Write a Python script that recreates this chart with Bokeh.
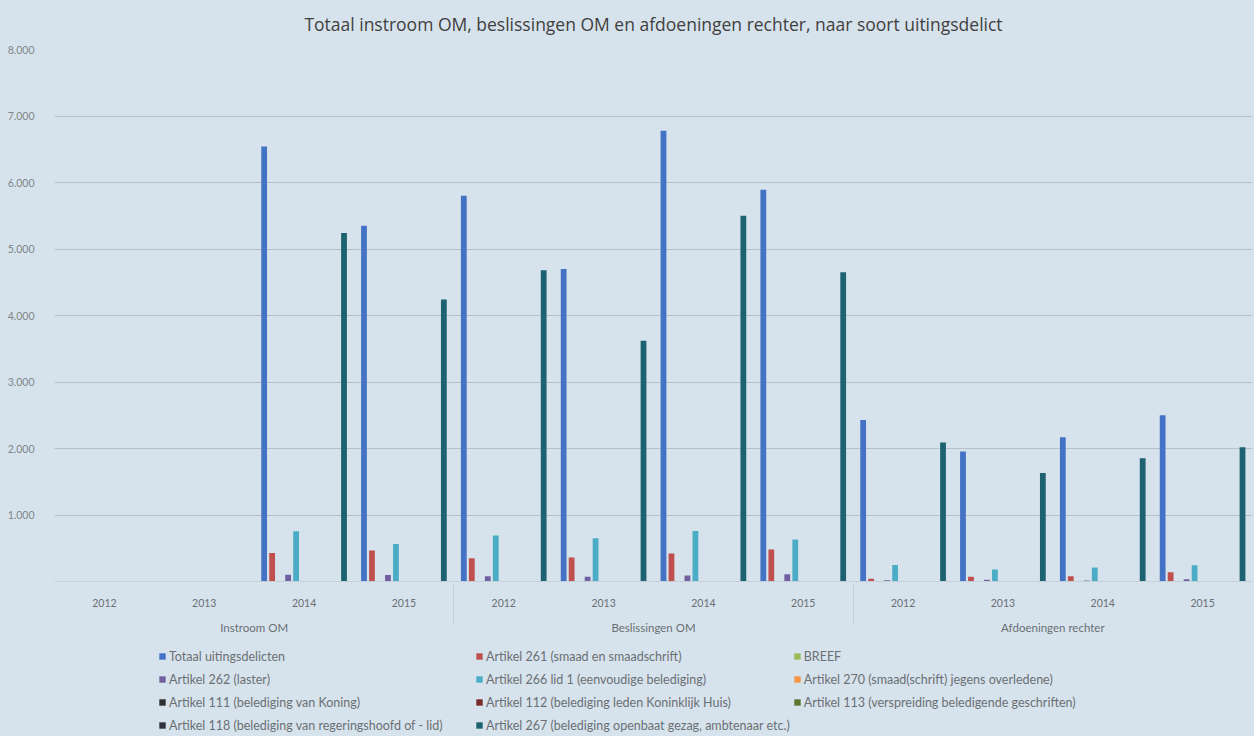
from bokeh.plotting import figure
from bokeh.layouts import column
from bokeh.models import (ColumnDataSource, FactorRange, Range1d, Legend, LegendItem,
                          FixedTicker)
from bokeh.transform import dodge
from bokeh.embed import file_html
from bokeh.resources import INLINE

# ---------------- data ----------------
groups = ["Instroom OM", "Beslissingen OM", "Afdoeningen rechter"]
years = ["2012", "2013", "2014", "2015"]

series_names = [
    "Totaal uitingsdelicten",
    "Artikel 261 (smaad en smaadschrift)",
    "BREEF",
    "Artikel 262 (laster)",
    "Artikel 266 lid 1 (eenvoudige belediging)",
    "Artikel 270 (smaad(schrift) jegens overledene)",
    "Artikel 111 (belediging van Koning)",
    "Artikel 112 (belediging leden Koninklijk Huis)",
    "Artikel 113 (verspreiding beledigende geschriften)",
    "Artikel 118 (belediging van regeringshoofd of - lid)",
    "Artikel 267 (belediging openbaat gezag, ambtenaar etc.)",
]

# values per category (Instroom 2012..2015, Beslissingen 2012..2015, Afdoeningen 2012..2015)
totaal      = [0, 0, 6540, 5350, 5800, 4700, 6780, 5890, 2430, 1955, 2170, 2500]
art_261     = [0, 0, 430, 465, 350, 360, 420, 480, 40, 70, 80, 140]
breef       = [0, 0, 0, 0, 0, 0, 0, 0, 0, 0, 0, 0]
art_262     = [0, 0, 100, 96, 80, 70, 90, 110, 20, 25, 15, 35]
art_266     = [0, 0, 755, 565, 690, 650, 760, 630, 250, 180, 210, 245]
art_270     = [0, 0, 0, 0, 0, 0, 0, 0, 0, 0, 0, 0]
art_111     = [0, 0, 0, 0, 0, 0, 0, 0, 0, 0, 0, 0]
art_112     = [0, 0, 0, 0, 0, 0, 0, 0, 0, 0, 0, 0]
art_113     = [0, 0, 0, 0, 0, 0, 0, 0, 0, 0, 0, 0]
art_118     = [0, 0, 0, 0, 0, 0, 0, 0, 0, 0, 0, 0]
art_267     = [0, 0, 5240, 4240, 4680, 3620, 5500, 4650, 2090, 1630, 1855, 2020]

y_ticks = [1000, 2000, 3000, 4000, 5000, 6000, 7000, 8000]
y_tick_labels = ["1.000", "2.000", "3.000", "4.000", "5.000", "6.000", "7.000", "8.000"]

series_values = [totaal, art_261, breef, art_262, art_266, art_270,
                 art_111, art_112, art_113, art_118, art_267]
series_colors = ["#4472c4", "#c0504d", "#9bbb59", "#7060a0", "#4bacc6", "#f79646",
                 "#2f2f2f", "#772c2a", "#5f7530", "#33303f", "#1d6270"]

# ---------------- main figure ----------------
factors = [(g, y) for g in groups for y in years]
keys = ["s%d" % i for i in range(len(series_names))]
data = {"x": factors}
for k, v in zip(keys, series_values):
    data[k] = v
source = ColumnDataSource(data)

BG = "#d7e3ec"
W = 1254
fig = figure(
    x_range=FactorRange(*factors, group_padding=0, factor_padding=0, range_padding=0),
    y_range=Range1d(0, 8000),
    width=W, height=639,
    output_backend="svg", toolbar_location=None,
    title="Totaal instroom OM, beslissingen OM en afdoeningen rechter, naar soort uitingsdelict",
    min_border_left=54, min_border_right=2, min_border_top=47, min_border_bottom=58,
    background_fill_color=BG, border_fill_color=BG,
)
fig.outline_line_color = None
fig.title.align = "center"
fig.title.vertical_align = "top"
fig.title.text_font = "Open Sans"
fig.title.text_font_size = "17.5px"
fig.title.text_font_style = "normal"
fig.title.text_color = "#404040"
fig.title.standoff = 23

renderers = []
step = 0.08
for i, (k, c) in enumerate(zip(keys, series_colors)):
    off = -0.4 + step * i
    r = fig.vbar(x=dodge("x", off, range=fig.x_range), top=k, width=0.058, source=source,
                 fill_color=c, line_color=None)
    renderers.append(r)

fig.xgrid.grid_line_color = None
fig.ygrid.grid_line_color = "#b5c0c8"
fig.ygrid.grid_line_width = 1.2
fig.yaxis.ticker = FixedTicker(ticks=y_ticks)
fig.yaxis.major_label_overrides = {t: l for t, l in zip(y_ticks, y_tick_labels)}
fig.yaxis.axis_line_color = None
fig.yaxis.major_tick_line_color = None
fig.yaxis.minor_tick_line_color = None
fig.yaxis.major_label_text_font = "Lato"
fig.yaxis.major_label_text_font_size = "10.5px"
fig.yaxis.major_label_text_color = "#80868b"
fig.yaxis.major_label_standoff = 14

xa = fig.xaxis[0]
xa.axis_line_color = "#c5cfd6"
xa.major_tick_line_color = None
xa.minor_tick_line_color = None
xa.major_label_text_font = "Lato"
xa.major_label_text_font_size = "10.5px"
xa.major_label_text_color = "#6a6f74"
xa.major_label_standoff = 11
xa.group_text_font = "Lato"
xa.group_text_font_size = "11.5px"
xa.group_text_color = "#6a6f74"
xa.group_text_font_style = "normal"
xa.separator_line_color = "#c5cfd6"
xa.separator_line_width = 1

# ---------------- legend strip ----------------
leg_fig = figure(
    width=W, height=97, x_range=Range1d(0, 1), y_range=Range1d(0, 1),
    x_axis_type=None, y_axis_type=None,
    output_backend="svg", toolbar_location=None,
    min_border_left=54, min_border_right=2, min_border_top=5, min_border_bottom=0,
    background_fill_color=BG, border_fill_color=BG,
)
leg_fig.outline_line_color = None
swatches = []
for c in series_colors:
    # legend-only renderer, its single point lies outside the visible range
    swatches.append(leg_fig.vbar(x=[-1.0], top=[0.0], width=0.001, fill_color=c, line_color=None))

legend = Legend(
    items=[LegendItem(label=nm, renderers=[r]) for nm, r in zip(series_names, swatches)],
    orientation="horizontal", ncols=3,
    location=(104, 1),
    glyph_width=8, glyph_height=8, label_standoff=3, label_width=303,
    label_text_font="Lato", label_text_font_size="12.5px", label_text_color="#6a6f74",
    label_height=20, spacing=3,
    border_line_color=None, background_fill_alpha=0, margin=0, padding=0,
)
leg_fig.add_layout(legend)

p = column(fig, leg_fig, styles={"background-color": BG})
open("out.html", "w").write(file_html(p, INLINE))
